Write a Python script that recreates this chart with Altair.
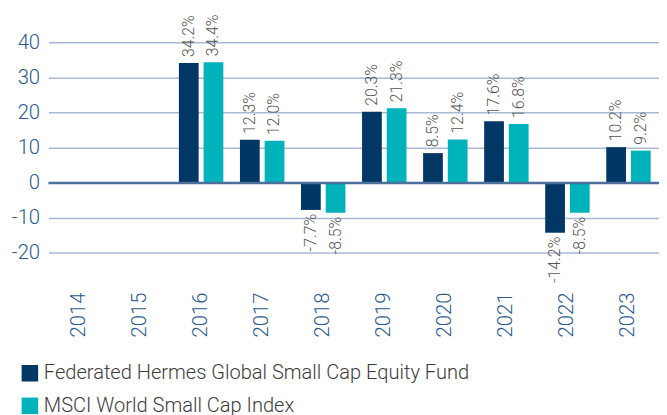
import altair as alt
import pandas as pd

years = ["2014", "2015", "2016", "2017", "2018", "2019", "2020", "2021", "2022", "2023"]
fund = [None, None, 34.2, 12.3, -7.7, 20.3, 8.5, 17.6, -14.2, 10.2]
index = [None, None, 34.4, 12.0, -8.5, 21.3, 12.4, 16.8, -8.5, 9.2]
series_names = ["Federated Hermes Global Small Cap Equity Fund", "MSCI World Small Cap Index"]
series_colors = ["#003764", "#00b2ba"]
y_ticks = [-20, -10, 0, 10, 20, 30, 40]

rows = []
for name, vals in zip(series_names, [fund, index]):
    for yr, v in zip(years, vals):
        if v is not None:
            rows.append({"year": yr, "series": name, "value": v, "label": f"{v:.1f}%"})
df = pd.DataFrame(rows)

FONT = "Roboto"
AXIS_COLOR = "#2d5a8c"

x = alt.X("year:N", sort=years, scale=alt.Scale(domain=years, paddingInner=0.272, paddingOuter=0.136),
          axis=alt.Axis(title=None, labelAngle=270, labelFontSize=20.5, labelColor=AXIS_COLOR,
                        labelFont=FONT, labelFontWeight=300, domain=False, ticks=False, labelPadding=4))
xo = alt.XOffset("series:N", sort=series_names, scale=alt.Scale(paddingInner=0.2, paddingOuter=0))
y = alt.Y("value:Q", scale=alt.Scale(domain=[-30, 49.15], nice=False, zero=False),
          axis=alt.Axis(title=None, values=y_ticks, grid=True, gridColor="#a9b9d4", gridWidth=1.5,
                        domain=False, ticks=False, labelFontSize=20.5, labelColor=AXIS_COLOR,
                        labelFont=FONT, labelFontWeight=300, labelPadding=9,
                        labelExpr="'' + datum.value"))

base = alt.Chart(df)

bars = base.mark_bar().encode(
    x=x, xOffset=xo, y=y, y2=alt.datum(0),
    color=alt.Color("series:N", sort=series_names,
                    scale=alt.Scale(domain=series_names, range=series_colors),
                    legend=alt.Legend(title=None, orient="none", legendX=-29, legendY=357,
                                      direction="vertical", symbolType="square", symbolSize=280,
                                      symbolStrokeWidth=0, labelFontSize=20.3, labelFont=FONT,
                                      labelFontWeight=300, labelColor="#3c3c3c", labelOffset=4,
                                      rowPadding=12, padding=0, labelLimit=600)),
)

pos_labels = base.transform_filter("datum.value >= 0").mark_text(
    angle=270, align="left", baseline="middle", dx=6, fontSize=16, font=FONT, fontWeight=300,
    color="#555555").encode(x=x, xOffset=xo, y=y, text="label:N")

neg_labels = base.transform_filter("datum.value < 0").mark_text(
    angle=270, align="right", baseline="middle", dx=-4, fontSize=16, font=FONT, fontWeight=300,
    color="#555555").encode(x=x, xOffset=xo, y=y, text="label:N")

zero = alt.Chart(pd.DataFrame({"z": [0]})).mark_rule(color="#4d6f9b", strokeWidth=2.5).encode(
    y=alt.Y("z:Q"))

chart = alt.layer(bars, zero, pos_labels, neg_labels).properties(
    width=618, height=281,
    autosize=alt.AutoSizeParams(type="none"),
    padding={"left": 41, "top": 0, "right": 0, "bottom": 140},
).configure_view(stroke=None)

chart.save("out.html", embed_options={"renderer": "svg", "actions": False})
